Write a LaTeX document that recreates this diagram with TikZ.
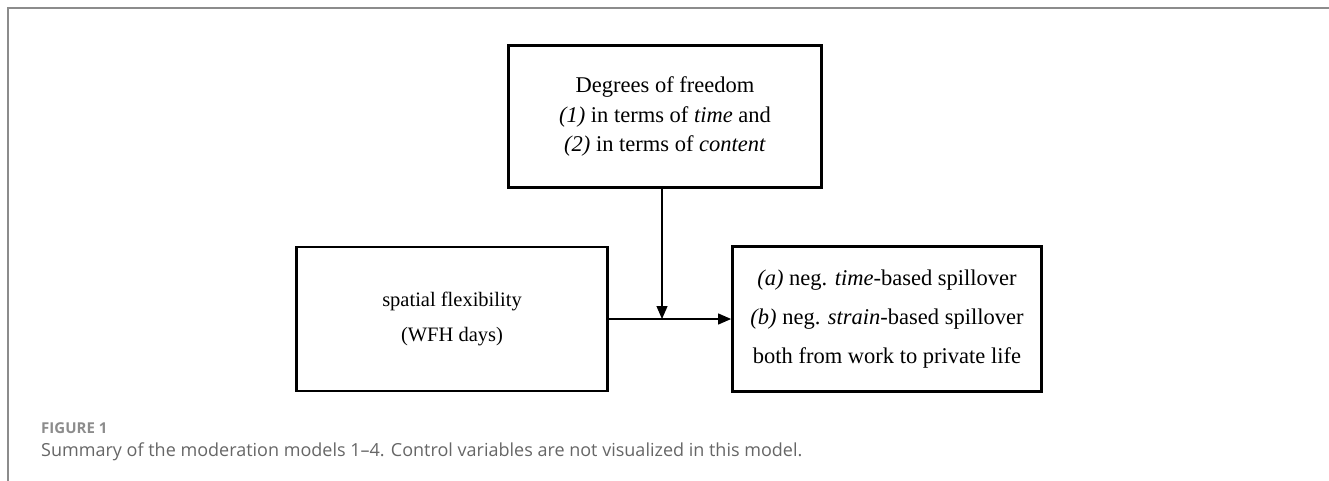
\documentclass[tikz,border=0pt]{standalone}
\usepackage{fontspec}
\setmainfont{Liberation Serif}
\newfontfamily\capfont{Open Sans}
\usetikzlibrary{arrows.meta}
\definecolor{framegray}{HTML}{8C8C8C}
\definecolor{capgray}{HTML}{666666}
\begin{document}
\begin{tikzpicture}[
  x=1pt, y=-1pt,
  box/.style={draw, line width=2.8pt, align=center, inner sep=0pt},
  arrow/.style={-{Triangle[length=13pt,width=11pt]}, line width=1.2pt},
  caption/.style={anchor=base west, inner sep=0pt, text=capgray}
]
  \useasboundingbox (0,0) rectangle (1329,481);
  % frame of the figure
  \draw[framegray, line width=2pt] (8,481) -- (8,8) -- (1329,8);

  \node[box, minimum width=313pt, minimum height=142pt,
    font=\fontsize{22.5}{29.5}\selectfont] (dof) at (665,116.5)
    {Degrees of freedom\\ \textit{(1)} in terms of \textit{time} and\\ \textit{(2)} in terms of \textit{content}};
  \node[box, minimum width=311pt, minimum height=144pt,
    font=\fontsize{20.5}{35}\selectfont] (spatial) at (452,319)
    {spatial flexibility\\ (WFH days)};
  \node[box, minimum width=309pt, minimum height=145pt,
    font=\fontsize{22.5}{39}\selectfont] (spill) at (887,319)
    {\textit{(a)} neg. \textit{time}-based spillover\\ \textit{(b)} neg. \textit{strain}-based spillover\\ both from work to private life};

  \coordinate (mod) at (662,319);
  \draw[arrow] (spatial.east) -- (spill.west);
  \draw[arrow] (dof.south -| mod) -- (mod);

  % caption
  \node[caption, font=\capfont\bfseries\fontsize{15}{18}\selectfont, text=framegray] (fig) at (41,433) {FIGURE 1};
  \node[caption, font=\capfont\fontsize{18}{21}\selectfont] (cap) at (41,456)
    {Summary of the moderation models 1–4. Control variables are not visualized in this model.};
\end{tikzpicture}
\end{document}
